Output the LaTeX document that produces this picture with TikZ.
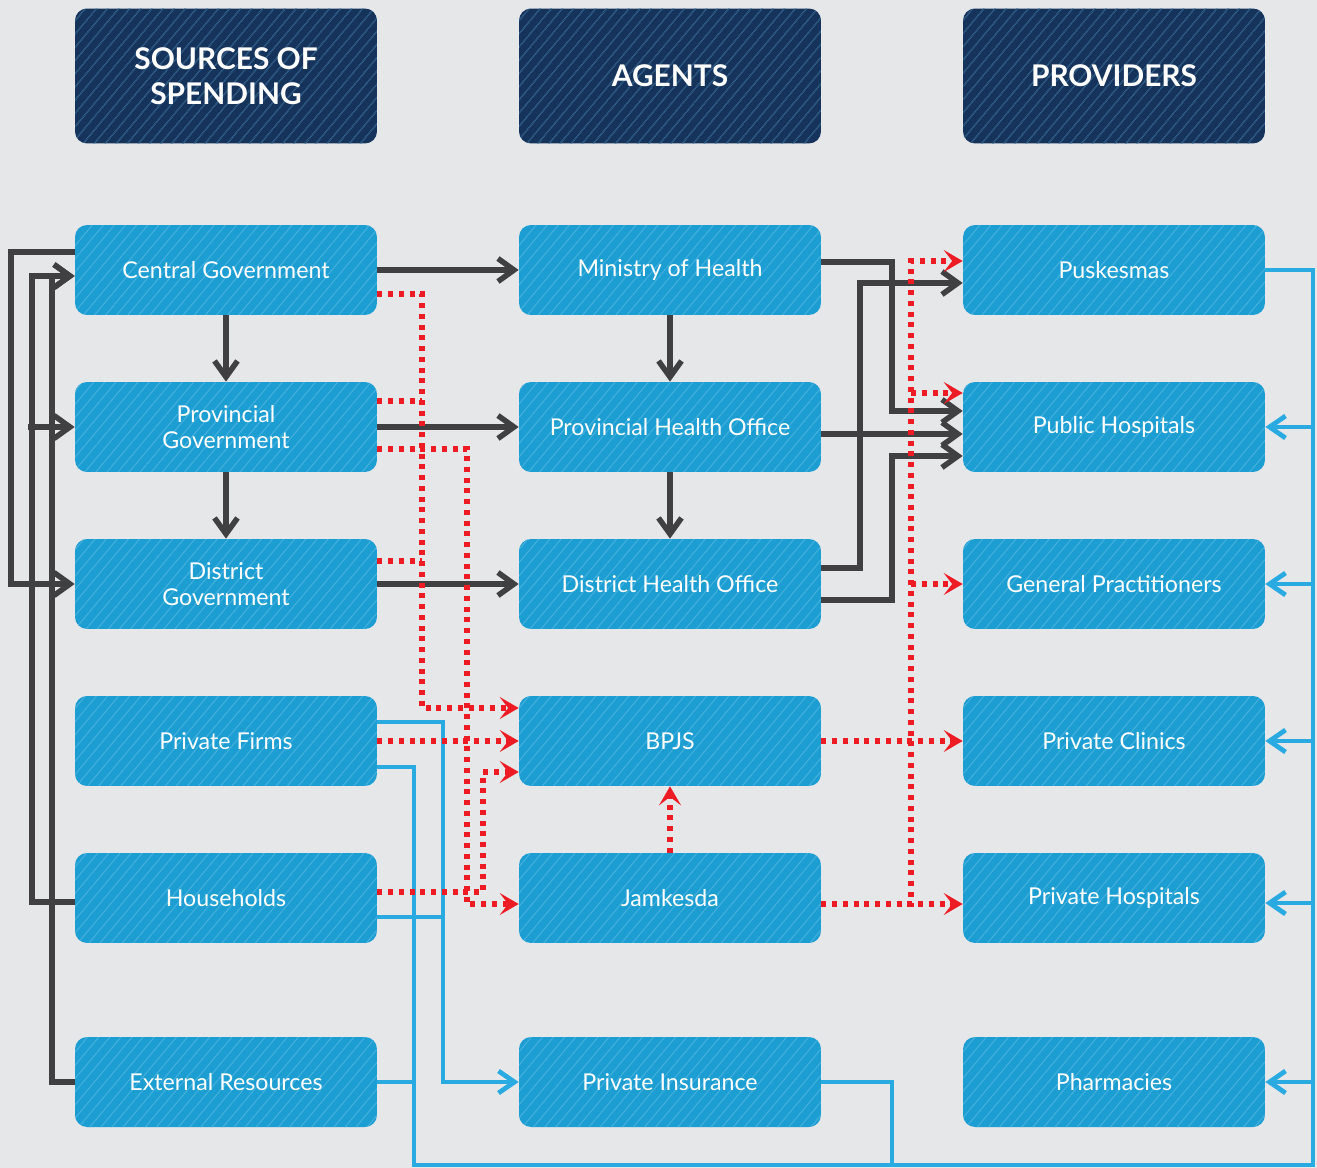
\documentclass[tikz,border=0pt]{standalone}
\usepackage{fontspec}
\setmainfont{Lato}
\usetikzlibrary{arrows.meta,calc,patterns.meta}
\definecolor{bgcol}{HTML}{E6E7E9}
\definecolor{boxcol}{HTML}{1C9ED3}
\definecolor{hatchcol}{HTML}{45B0DD}
\definecolor{headcol}{HTML}{15335B}
\definecolor{headhatch}{HTML}{2B4870}
\definecolor{flowcol}{HTML}{404042}
\definecolor{fundcol}{HTML}{ED1C24}
\definecolor{paycol}{HTML}{29ABE2}
\tikzset{
  entity/.style={fill=boxcol, rounded corners=0.24cm, minimum width=6.04cm, minimum height=1.8cm,
    text=white, align=center, font=\fontsize{13.2}{14.4}\selectfont,
    postaction={pattern={Lines[angle=50,distance=0.17cm,line width=0.02cm]}, pattern color=hatchcol}},
  head/.style={entity, fill=headcol, minimum height=2.7cm, font=\fontsize{17}{20}\selectfont\bfseries,
    postaction={pattern={Lines[angle=50,distance=0.17cm,line width=0.02cm]}, pattern color=headhatch}},
  flow/.style={draw=flowcol, line width=0.11cm, -{Straight Barb[length=0.32cm,width=0.46cm]}},
  fund/.style={draw=fundcol, line width=0.11cm, dash pattern=on 0.1cm off 0.115cm,
    -{Stealth[length=0.38cm,width=0.44cm,inset=0.17cm]}},
  pay/.style={draw=paycol, line width=0.095cm, -{Straight Barb[length=0.32cm,width=0.44cm]}}
}
\begin{document}
\begin{tikzpicture}[x=0.02cm, y=-0.02cm]
  \fill[bgcol] (0,0) rectangle (1317,1168);

  \node[head] (hsrc) at (226,76) {SOURCES OF\\SPENDING};
  \node[head] (hagt) at (670,76) {AGENTS};
  \node[head] (hprv) at (1114,76) {PROVIDERS};

  \node[entity] (cg) at (226,270) {Central Government};
  \node[entity] (pg) at (226,427) {Provincial\\Government};
  \node[entity] (dg) at (226,584) {District\\Government};
  \node[entity] (pf) at (226,741) {Private Firms};
  \node[entity] (hh) at (226,898) {Households};
  \node[entity] (er) at (226,1082) {External Resources};

  \node[entity] (moh) at (670,270) {Ministry of Health};
  \node[entity] (pho) at (670,427) {Provincial Health Office};
  \node[entity] (dho) at (670,584) {District Health Office};
  \node[entity] (bpjs) at (670,741) {BPJS};
  \node[entity] (jamk) at (670,898) {Jamkesda};
  \node[entity] (pi) at (670,1082) {Private Insurance};

  \node[entity] (pusk) at (1114,270) {Puskesmas};
  \node[entity] (ph) at (1114,427) {Public Hospitals};
  \node[entity] (gp) at (1114,584) {General Practitioners};
  \node[entity] (pc) at (1114,741) {Private Clinics};
  \node[entity] (privh) at (1114,898) {Private Hospitals};
  \node[entity] (pharm) at (1114,1082) {Pharmacies};

  \draw[pay] ($(pf.east)+(0,-19)$) -| (443,1082) -- (pi.west);
  \draw[pay, -] ($(hh.east)+(0,19)$) -- (443,917);
  \draw[pay, -] ($(pf.east)+(0,26)$) -| (414,1165) -| (1313,270) -- (pusk.east);
  \draw[pay, -] (er.east) -- (414,1082);
  \draw[pay, -] (pi.east) -| (892,1165);
  \foreach \n/\d in {ph/0,gp/0,pc/0,privh/5,pharm/0}
    \draw[pay] (1313,0 |- {$(\n.east)+(0,\d)$}) -- ($(\n.east)+(0,\d)$);

  \draw[flow] (cg) -- (moh);
  \draw[flow] (pg) -- (pho);
  \draw[flow] (dg) -- (dho);
  \draw[flow] (cg) -- (pg);
  \draw[flow] (pg) -- (dg);
  \draw[flow] (moh) -- (pho);
  \draw[flow] (pho) -- (dho);
  \draw[flow] ($(cg.west)+(0,-18)$) -| (11,584) -- (dg.west);
  \draw[flow] ($(hh.west)+(0,4)$) -| (32,276) -- ($(cg.west)+(0,6)$);
  \draw[flow] (er.west) -| (52,276) -- ($(cg.west)+(0,6)$);
  \draw[flow] (28,427) -- (pg.west);
  \draw[flow] ($(moh.east)+(0,-8)$) -| (892,411) -- ($(ph.west)+(0,-16)$);
  \draw[flow] ($(dho.east)+(0,-16)$) -| (860,283) -- ($(pusk.west)+(0,13)$);
  \draw[flow] ($(pho.east)+(0,7)$) -- ($(ph.west)+(0,7)$);
  \draw[flow] ($(dho.east)+(0,16)$) -| (892,456) -- ($(ph.west)+(0,29)$);

  \draw[fund] ($(cg.east)+(0,24)$) -| (422,708) -- ($(bpjs.west)+(0,-33)$);
  \draw[fund, -] ($(pg.east)+(0,-26)$) -- (422,401);
  \draw[fund, -] ($(dg.east)+(0,-23)$) -- (422,561);
  \draw[fund] ($(pg.east)+(0,22)$) -| (467,904) -- ($(jamk.west)+(0,6)$);
  \draw[fund] (pf) -- (bpjs);
  \draw[fund] ($(hh.east)+(0,-6)$) -| (483,772) -- ($(bpjs.west)+(0,31)$);
  \draw[fund] (jamk) -- (bpjs);
  \draw[fund] (bpjs) -- (pc);
  \draw[fund] ($(jamk.east)+(0,6)$) -- ($(privh.west)+(0,6)$);
  \draw[fund] ($(jamk.east)+(0,6)$) -| (911,261) -- ($(pusk.west)+(0,-9)$);
  \draw[fund] (911,393) -- ($(ph.west)+(0,-34)$);
  \draw[fund] (911,584) -- (gp.west);
\end{tikzpicture}
\end{document}
